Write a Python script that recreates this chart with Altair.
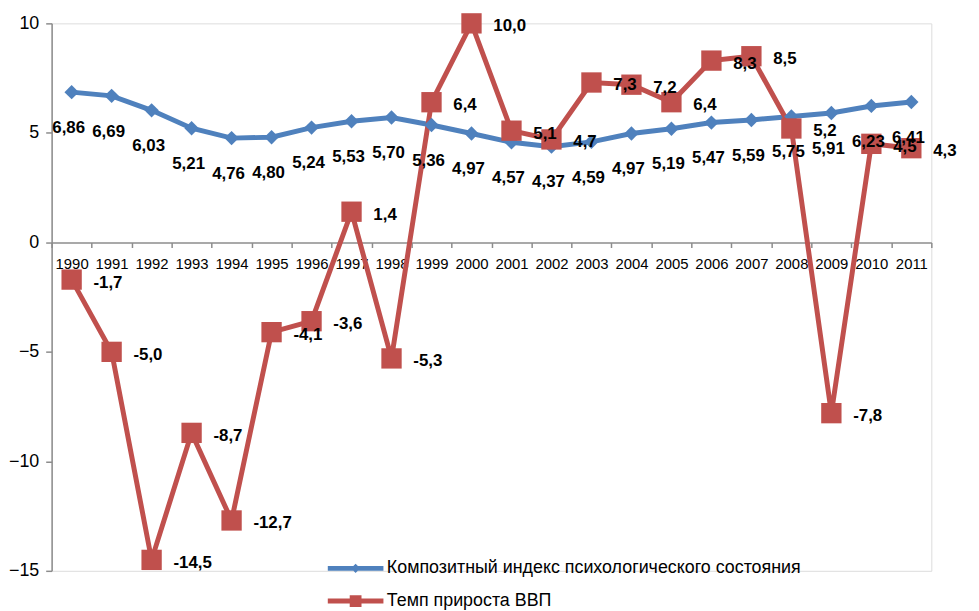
import altair as alt
import pandas as pd

years = [str(y) for y in range(1990, 2012)]
index_vals = [6.86, 6.69, 6.03, 5.21, 4.76, 4.80, 5.24, 5.53, 5.70, 5.36, 4.97,
              4.57, 4.37, 4.59, 4.97, 5.19, 5.47, 5.59, 5.75, 5.91, 6.23, 6.41]
gdp_vals = [-1.7, -5.0, -14.5, -8.7, -12.7, -4.1, -3.6, 1.4, -5.3, 6.4, 10.0,
            5.1, 4.7, 7.3, 7.2, 6.4, 8.3, 8.5, 5.2, -7.8, 4.5, 4.3]
series_names = ["Композитный индекс психологического состояния", "Темп прироста ВВП"]
colors = ["#4F81BD", "#C0504D"]
y_ticks = [-15, -10, -5, 0, 5, 10]

rows = []
for y, v in zip(years, index_vals):
    rows.append({"year": y, "series": series_names[0], "value": v,
                 "label": f"{v:.2f}".replace(".", ",")})
for y, v in zip(years, gdp_vals):
    rows.append({"year": y, "series": series_names[1], "value": v,
                 "label": f"{v:.1f}".replace(".", ",")})
df = pd.DataFrame(rows)

FONT = "Liberation Sans, Arial, sans-serif"
W, H = 887, 552

color_scale = alt.Scale(domain=series_names, range=colors)

x_enc = alt.X("year:O", scale=alt.Scale(type="band", paddingInner=0, paddingOuter=0),
              axis=alt.Axis(title=None, labelAngle=0, tickBand="extent", offset=-331,
                            domainColor="#8c8c8c", tickColor="#8c8c8c", tickSize=5,
                            domainWidth=1.5, tickWidth=1.5,
                            labelFont=FONT, labelFontSize=15, labelColor="black",
                            labelPadding=9))
y_enc = alt.Y("value:Q", scale=alt.Scale(domain=[-15, 10], nice=False, zero=False),
              axis=alt.Axis(title=None, values=y_ticks, grid=False,
                            domainColor="#8c8c8c", tickColor="#8c8c8c", tickSize=6,
                            domainWidth=1.5, tickWidth=1.5,
                            labelFont=FONT, labelFontSize=18, labelColor="black",
                            labelPadding=7))

base = alt.Chart(df).encode(x=x_enc, y=y_enc)
idx = base.transform_filter(alt.datum.series == series_names[0])
gdp = base.transform_filter(alt.datum.series == series_names[1])

line_idx = idx.mark_line(strokeWidth=5, color=colors[0])
line_gdp = gdp.mark_line(strokeWidth=5, color=colors[1])

pts_idx = idx.mark_point(shape="diamond", filled=True, size=210, opacity=1, color=colors[0])
pts_gdp = gdp.mark_point(shape="square", filled=True, size=420, opacity=1, color=colors[1])

lbl_idx = idx.mark_text(font=FONT, fontSize=17, fontWeight="bold", color="black",
                        align="center", baseline="middle", dy=36, dx=-3).encode(text="label:N")
lbl_gdp = gdp.mark_text(font=FONT, fontSize=17, fontWeight="bold", color="black",
                        align="left", baseline="middle", dx=22, dy=3).encode(text="label:N")

blue_sym = "M-1.7,-0.15L1.7,-0.15L1.7,0.15L-1.7,0.15Z M0,-0.28L0.28,0L0,0.28L-0.28,0Z"
red_sym = "M-1.7,-0.15L1.7,-0.15L1.7,0.15L-1.7,0.15Z M-0.36,-0.36L0.36,-0.36L0.36,0.36L-0.36,0.36Z"

leg = alt.Legend(title=None, orient="none", legendX=290, legendY=533,
                 symbolSize=1089, symbolOpacity=1, symbolStrokeWidth=0,
                 labelFont=FONT, labelFontSize=18, labelColor="black", labelOffset=15,
                 rowPadding=7, padding=0, labelLimit=600)

legend_layer = base.mark_point(filled=True, opacity=0).encode(
    color=alt.Color("series:N", scale=color_scale, legend=leg),
    shape=alt.Shape("series:N", scale=alt.Scale(domain=series_names, range=[blue_sym, red_sym]),
                    legend=leg))

chart = alt.layer(line_idx, line_gdp, pts_idx, pts_gdp, lbl_idx, lbl_gdp, legend_layer).properties(
    width=W, height=H,
    autosize=alt.AutoSizeParams(type="none"),
    padding={"left": 44, "top": 13, "right": 40, "bottom": 38},
).configure_view(stroke=None).configure(background="white")

chart.save("out.html", embed_options={"renderer": "svg", "actions": False})
